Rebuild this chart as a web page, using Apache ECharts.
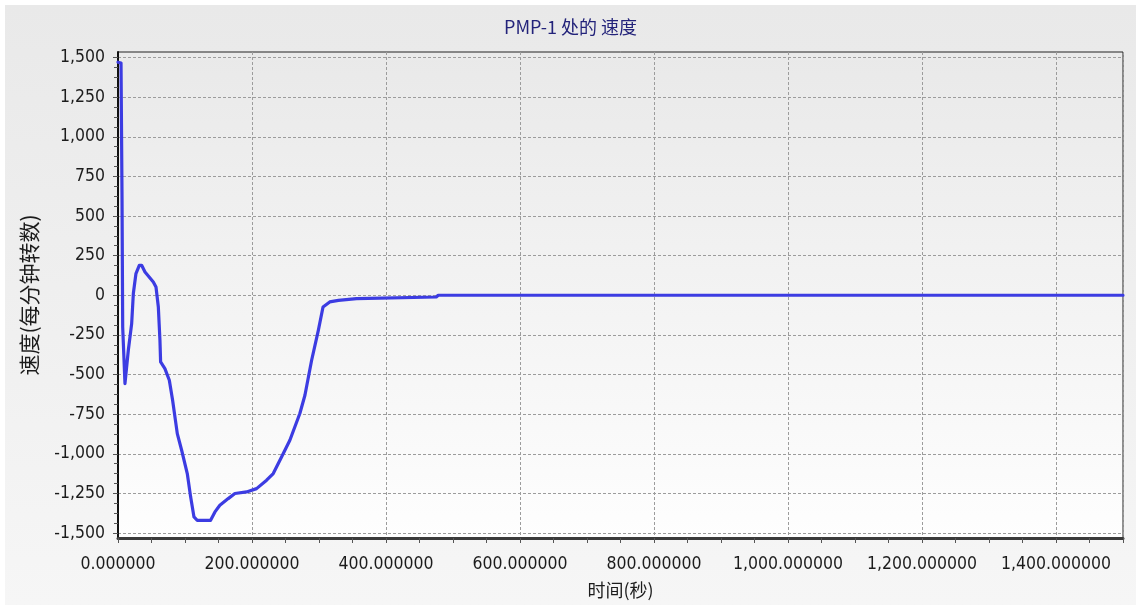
<!DOCTYPE html>
<html>
<head>
<meta charset="utf-8">
<title>PMP-1 处的 速度</title>
<script src="https://cdn.jsdelivr.net/npm/echarts@6/dist/echarts.min.js"></script>
<style>
  html, body { margin: 0; padding: 0; background: #ffffff; }
  #panel {
    position: absolute; left: 5px; top: 5px; width: 1131px; height: 600px;
    background: linear-gradient(to bottom, #e9e9e9 0%, #f0f0f0 55%, #f6f6f6 100%);
  }
  #chart { position: absolute; left: 0; top: 0; width: 1141px; height: 610px; }
</style>
</head>
<body>
<div id="panel"></div>
<div id="chart"></div>
<script>
// Pump PMP-1 speed trace: time in seconds, speed in rpm
const timeSec = [
  0, 4.5, 6, 7, 10.4, 15.4, 20.4, 22.9, 26.8, 31.8, 35.3, 40.3, 52.7, 56.7,
  60.2, 62.6, 63.6, 70, 76.6, 81.5, 88.5, 95, 103.4, 108.4, 113.4, 118.3,
  138.2, 144.7, 152, 164.5, 174.5, 191.9, 206.8, 221.8, 231.7, 244.1, 256.5,
  271.4, 279, 289, 299, 306, 316, 329, 356, 358, 475, 478, 1500
];
const speedRpm = [
  1470, 1465, 620, -200, -557, -347, -179, 11, 137, 189, 189, 147, 84, 52,
  -74, -284, -421, -463, -536, -662, -873, -978, -1125, -1272, -1399, -1420,
  -1420, -1367, -1325, -1283, -1251, -1241, -1220, -1167, -1125, -1020, -915,
  -746, -631, -410, -221, -74, -42, -32, -21, -11, -11, 0, 0
];

// Axis ranges and tick steps
const timeRange = [0, 1500];
const timeStep = 200;
const speedRange = [-1500, 1500];
const speedStep = 250;

const chartTitle = 'PMP-1 处的 速度';
const xName = '时间(秒)';
const yName = '速度(每分钟转数)';

const latinFont = "'DejaVu Sans Condensed', 'DejaVu Sans', sans-serif";
const cjkFont = "'Noto Sans CJK SC', 'Noto Sans', sans-serif";
const labelColor = '#1c1c1c';
const gridDash = { color: '#9c9c9c', width: 1, type: [3, 2] };

function withCommas(s) {
  const parts = s.split('.');
  parts[0] = parts[0].replace(/\B(?=(\d{3})+(?!\d))/g, ',');
  return parts.join('.');
}

const points = timeSec.map((t, i) => [t, speedRpm[i]]);

const chart = echarts.init(document.getElementById('chart'), null, { renderer: 'canvas' });

chart.setOption({
  animation: false,
  title: {
    text: chartTitle,
    left: 'center',
    top: 13,
    textStyle: { color: '#23237a', fontSize: 18, fontWeight: 'normal', fontFamily: cjkFont }
  },
  grid: [
    // frame of the plot area
    {
      left: 118, top: 52, width: 1005, height: 486,
      show: true,
      borderColor: '#222222', borderWidth: 1,
      backgroundColor: {
        type: 'linear', x: 0, y: 0, x2: 0, y2: 1,
        colorStops: [
          { offset: 0, color: '#e9e9e9' },
          { offset: 0.5, color: '#f3f3f3' },
          { offset: 1, color: '#fefefe' }
        ]
      }
    },
    // inner data area spanning the labelled speed range
    { left: 118, top: 57.5, width: 1005, height: 475.5 }
  ],
  xAxis: [
    {
      type: 'value', gridIndex: 0,
      min: timeRange[0], max: timeRange[1], interval: timeStep,
      name: xName, nameLocation: 'middle', nameGap: 43,
      nameTextStyle: { color: labelColor, fontSize: 18, fontFamily: cjkFont },
      axisLine: { show: true, onZero: false, lineStyle: { color: '#3a3a3a', width: 3 } },
      axisTick: { show: true, length: 5, lineStyle: { color: '#555555' } },
      minorTick: { show: true, splitNumber: 4, length: 5, lineStyle: { color: '#555555' } },
      splitLine: { show: true, lineStyle: gridDash },
      axisLabel: {
        show: true, margin: 17, showMaxLabel: false,
        color: labelColor, fontSize: 17.5, fontFamily: latinFont,
        formatter: v => withCommas(v.toFixed(6))
      }
    },
    {
      type: 'value', gridIndex: 1,
      min: timeRange[0], max: timeRange[1], interval: timeStep,
      show: false
    }
  ],
  yAxis: [
    {
      type: 'value', gridIndex: 0,
      min: 0, max: 1,
      name: yName, nameLocation: 'middle', nameGap: 78, nameRotate: 90,
      nameTextStyle: { color: labelColor, fontSize: 21, fontFamily: cjkFont },
      axisLine: { show: true, onZero: false, lineStyle: { color: '#111111', width: 2 } },
      axisTick: { show: false },
      axisLabel: { show: false },
      splitLine: { show: false }
    },
    {
      type: 'value', gridIndex: 1,
      min: speedRange[0], max: speedRange[1], interval: speedStep,
      axisLine: { show: false },
      axisTick: { show: true, length: 5, lineStyle: { color: '#555555' } },
      minorTick: { show: true, splitNumber: 4, length: 4, lineStyle: { color: '#555555' } },
      splitLine: { show: true, lineStyle: gridDash },
      axisLabel: {
        margin: 13, color: labelColor, fontSize: 17.5, fontFamily: latinFont,
        formatter: v => withCommas(String(v))
      }
    }
  ],
  series: [
    {
      name: 'PMP-1',
      type: 'line',
      xAxisIndex: 1, yAxisIndex: 1,
      data: points,
      showSymbol: false,
      symbol: 'none',
      smooth: false,
      clip: false,
      lineStyle: { color: '#3c3ce2', width: 3.2, join: 'round', cap: 'round' },
      z: 5
    }
  ]
});
</script>
</body>
</html>
